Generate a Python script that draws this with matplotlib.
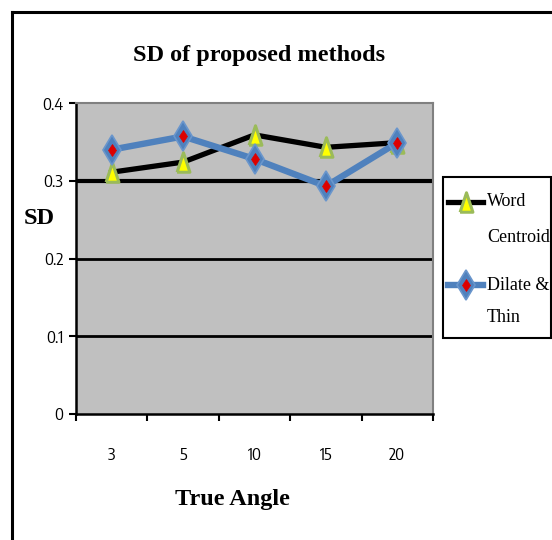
import matplotlib
matplotlib.use("Agg")
import matplotlib.pyplot as plt
from matplotlib.lines import Line2D
from matplotlib.patches import Rectangle
import matplotlib.font_manager as fm

categories = ["3", "5", "10", "15", "20"]
word_centroid = [0.311, 0.324, 0.359, 0.343, 0.349]
dilate_thin = [0.340, 0.357, 0.328, 0.293, 0.349]
y_ticks = [0, 0.1, 0.2, 0.3, 0.4]
y_tick_labels = ["0", "0.1", "0.2", "0.3", "0.4"]

names = sorted({f.name for f in fm.fontManager.ttflist})
narrow = None
for n in names:
    if "Narrow" in n and "Liberation" in n:
        narrow = n
if narrow is None:
    for n in names:
        if "Condensed" in n and "Sans" in n:
            narrow = n
            break
tick_font = dict(fontfamily=narrow if narrow else "Liberation Sans")
tick_size = 12 if narrow else 10.5
serif = "Liberation Serif"

W, H = 552, 540
fig = plt.figure(figsize=(W / 100, H / 100), dpi=100)
fig.patch.set_facecolor("white")

def fx(x):
    return x / W

def fy(y):
    return 1 - y / H

# outer frame (left and top edges visible)
fig.add_artist(Line2D([fx(12), fx(12)], [fy(12), fy(560)], color="black", lw=2.2, transform=fig.transFigure))
fig.add_artist(Line2D([fx(12), fx(570)], [fy(12), fy(12)], color="black", lw=2.2, transform=fig.transFigure))

tri = [(-0.33, -0.5), (0.33, -0.5), (0.0, 0.5), (-0.33, -0.5)]

ax = fig.add_axes([fx(76), fy(414), fx(433) - fx(76), fy(103) - fy(414)])
ax.set_facecolor("#C0C0C0")
x = list(range(len(categories)))
ax.set_xlim(-0.5, len(categories) - 0.5)
ax.set_ylim(0, 0.4)

for v in y_ticks[1:-1]:
    ax.axhline(v, color="black", lw=3.0 if v == 0.3 else 2.0, zorder=1)

ax.plot(x, word_centroid, color="black", lw=3.8, zorder=3,
        marker=tri, markersize=14, markerfacecolor="#FFFF00",
        markeredgecolor="#9BBB59", markeredgewidth=2.2)
ax.plot(x, dilate_thin, color="#4F81BD", lw=4.6, zorder=4,
        marker="d", markersize=15, markerfacecolor="#4F81BD",
        markeredgecolor="#6A96CC", markeredgewidth=1.2)
ax.plot(x, dilate_thin, linestyle="none", zorder=5,
        marker="d", markersize=6.5, markerfacecolor="#DD0000",
        markeredgecolor="#DD0000", markeredgewidth=0.5)

ax.set_yticks(y_ticks)
ax.set_yticklabels(y_tick_labels, fontsize=tick_size, **tick_font)
ax.set_xticks(x)
ax.set_xticklabels(categories, fontsize=tick_size, **tick_font)
ax.set_xticks([i - 0.5 for i in range(len(categories) + 1)], minor=True)
ax.tick_params(axis="x", which="major", length=0, pad=24)
ax.tick_params(axis="x", which="minor", length=5, width=1.5, direction="out")
ax.tick_params(axis="y", length=5, width=1.5, direction="out", pad=4)

for s in ["left", "bottom"]:
    ax.spines[s].set_color("black")
    ax.spines[s].set_linewidth(1.8)
for s in ["top", "right"]:
    ax.spines[s].set_color("#808080")
    ax.spines[s].set_linewidth(1.5)

fig.text(fx(259), fy(56), "SD of proposed methods", ha="center", va="center",
         fontfamily=serif, fontweight="bold", fontsize=17.5)
fig.text(fx(39), fy(219), "SD", ha="center", va="center",
         fontfamily=serif, fontweight="bold", fontsize=17.5)
fig.text(fx(232), fy(500), "True Angle", ha="center", va="center",
         fontfamily=serif, fontweight="bold", fontsize=17.5)

# legend
fig.add_artist(Rectangle((fx(443), fy(338)), fx(551) - fx(443), fy(177) - fy(338),
                         transform=fig.transFigure, facecolor="white",
                         edgecolor="black", lw=1.5))
fig.add_artist(Line2D([fx(448), fx(483)], [fy(202), fy(202)], color="black", lw=3.8,
                      transform=fig.transFigure))
fig.add_artist(Line2D([fx(465.5)], [fy(202)], marker=tri, markersize=14,
                      markerfacecolor="#FFFF00", markeredgecolor="#9BBB59",
                      markeredgewidth=2.2, transform=fig.transFigure))
fig.add_artist(Line2D([fx(448), fx(483)], [fy(285), fy(285)], color="#4F81BD", lw=4.6,
                      transform=fig.transFigure))
fig.add_artist(Line2D([fx(465.5)], [fy(285)], marker="d", markersize=15,
                      markerfacecolor="#4F81BD", markeredgecolor="#6A96CC",
                      markeredgewidth=1.2, transform=fig.transFigure))
fig.add_artist(Line2D([fx(465.5)], [fy(285)], marker="d", markersize=6.5,
                      markerfacecolor="#DD0000", markeredgecolor="#DD0000",
                      markeredgewidth=0.5, transform=fig.transFigure))
for txt, yy in [("Word", 202), ("Centroid", 237), ("Dilate &", 285), ("Thin", 318)]:
    fig.text(fx(487), fy(yy), txt, ha="left", va="center", fontfamily=serif, fontsize=13)

fig.savefig("out.png", dpi=100)
